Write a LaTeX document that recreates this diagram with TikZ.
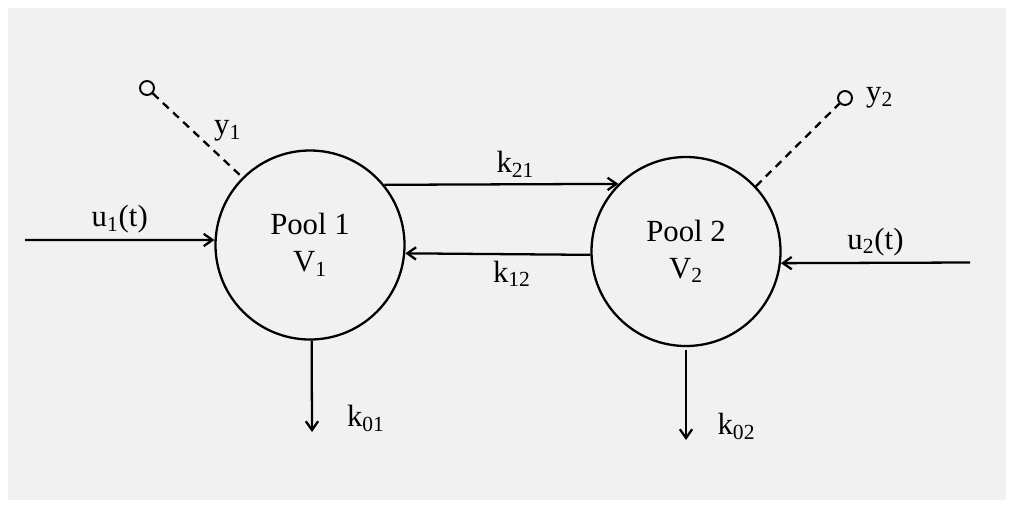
\documentclass[tikz,border=0pt]{standalone}
\usepackage{fontspec}
\setmainfont{Liberation Serif}
\usetikzlibrary{arrows.meta}
\tikzset {>={Straight Barb[length=5pt,width=7pt]}}
\definecolor{paper}{HTML}{F1F1F1}
\tikzset{
  pool/.style={draw,circle,line width=1.3pt,minimum size=3.78cm,inner sep=0pt,align=center},
  flow/.style={->,line width=1.3pt},
  probe/.style={draw,circle,line width=1.1pt,minimum size=0.28cm,inner sep=0pt},
  meas/.style={line width=1.3pt,dash pattern=on 4.5pt off 3.4pt}
}

\begin{document}
\begin{tikzpicture}[font=\fontsize{17.5}{21}\selectfont]
% page and paper
\fill[white] (0,0) rectangle (20.3,-10.18);
\fill[paper] (0.16,-0.16) rectangle (20.12,-10.0);

% the two pools
\node[pool] (P1) at (6.2,-4.9) {Pool 1\\V\textsubscript{1}};
\node[pool] (P2) at (13.72,-5.03) {Pool 2\\V\textsubscript{2}};

% sampling points
\node[probe] (Y1) at (2.94,-1.76) {};
\node[probe] (Y2) at (16.9,-1.96) {};
\node[right=4pt] at (Y2.east) {y\textsubscript{2}};

% free ends of the flows
\coordinate (U1) at (0.5,-4.8);
\coordinate (U2) at (19.4,-5.25);
\coordinate (K1) at (6.24,-8.64);
\coordinate (K2) at (13.72,-8.8);

\draw[flow] (U1) -- node[above] {u\textsubscript{1}(t)} (P1.177);
\draw[flow] (U2) -- node[above] {u\textsubscript{2}(t)} (P2.-7);
\draw[flow] (P1.39) -- node[above,xshift=8pt] {k\textsubscript{21}} (P2.135);
\draw[flow] (P2.182) -- node[below,xshift=8pt] {k\textsubscript{12}} (P1.-5);
\draw[flow] (P1.-89) -- node[pos=.85,right=16pt] {k\textsubscript{01}} (K1);
\draw[flow] (P2.-90) ++(0,-0.06) -- node[pos=.85,right=14pt] {k\textsubscript{02}} (K2);

\draw[meas] (Y1) -- node[right=8pt,pos=.45] {y\textsubscript{1}} (P1.135);
\draw[meas] (P2.43) -- (Y2);
\end{tikzpicture}
\end{document}
